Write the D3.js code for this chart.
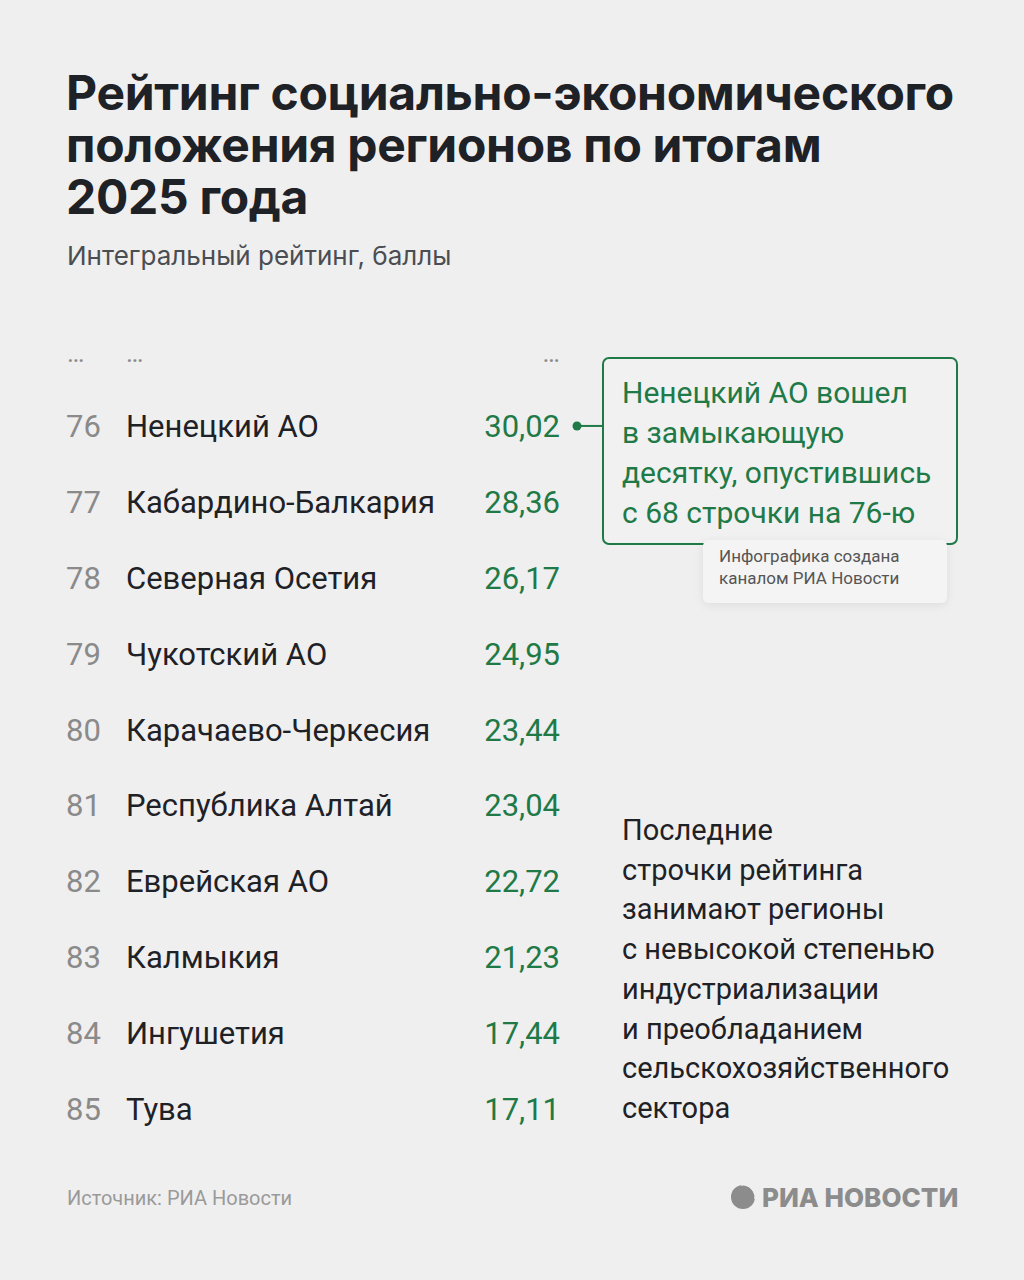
<!DOCTYPE html>
<html><head><meta charset="utf-8">
<script src="https://cdn.jsdelivr.net/npm/d3@7"></script>
<style>body{margin:0;background:#efefef}svg{display:block}</style>
</head><body>
<script>
const ranks=[76,77,78,79,80,81,82,83,84,85];
const regions=["Ненецкий АО","Кабардино-Балкария","Северная Осетия","Чукотский АО","Карачаево-Черкесия","Республика Алтай","Еврейская АО","Калмыкия","Ингушетия","Тува"];
const values=[30.02,28.36,26.17,24.95,23.44,23.04,22.72,21.23,17.44,17.11];
const titleLines=["Рейтинг социально-экономического","положения регионов по итогам","2025 года"];
const subtitle="Интегральный рейтинг, баллы";
const calloutLines=["Ненецкий АО вошел","в замыкающую","десятку, опустившись","с 68 строчки на 76-ю"];
const noteLines=["Последние","строчки рейтинга","занимают регионы","с невысокой степенью","индустриализации","и преобладанием","сельскохозяйственного","сектора"];
const creditLines=["Инфографика создана","каналом РИА Новости"];

const W=1024,H=1280,F="Roboto, 'Noto Sans', sans-serif",FT="Inter, 'Noto Sans', sans-serif";
const green="#1f7a47",dark="#1e2126",grey="#8a8a8a";
const svg=d3.select("body").append("svg").attr("width",W).attr("height",H).style("font-family",F);
svg.append("rect").attr("width",W).attr("height",H).attr("fill","#efefef");

svg.selectAll(".t").data(titleLines).join("text").attr("x",66).attr("y",110+0*52).attr("y",(d,i)=>110+i*52)
 .attr("font-family",FT).attr("font-size",48).attr("font-weight",700).attr("fill",dark).attr("letter-spacing",-0.3).text(d=>d);
svg.append("text").attr("x",67).attr("y",265).attr("font-family",FT).attr("font-size",26).attr("fill","#4a4d52").text(subtitle);

const y=d3.scaleBand().domain(ranks).range([388,1147]);
const fmt=v=>d3.format(".2f")(v).replace(".",",");
[[67,"start"],[126,"start"],[560,"end"]].forEach(([x,a])=>svg.append("text").attr("x",x).attr("y",362).attr("text-anchor",a).attr("font-size",26).attr("fill",grey).text("…"));
const g=svg.selectAll(".row").data(ranks).join("g").attr("transform",d=>`translate(0,${y(d)+y.bandwidth()/2+11})`);
g.append("text").attr("x",66).attr("font-size",31).attr("fill",grey).text(d=>d);
g.append("text").attr("x",126).attr("font-size",31).attr("fill",dark).text((d,i)=>regions[i]);
g.append("text").attr("x",560).attr("text-anchor","end").attr("font-size",31).attr("fill",green).text((d,i)=>fmt(values[i]));

const cy=y(76)+y.bandwidth()/2;
svg.append("line").attr("x1",576).attr("x2",603).attr("y1",cy).attr("y2",cy).attr("stroke",green).attr("stroke-width",2);
svg.append("circle").attr("cx",577).attr("cy",cy).attr("r",4.5).attr("fill",green);
svg.append("rect").attr("x",603).attr("y",358).attr("width",354).attr("height",186).attr("rx",6).attr("fill","#f1f1f1").attr("stroke",green).attr("stroke-width",2);
svg.selectAll(".c").data(calloutLines).join("text").attr("x",622).attr("y",(d,i)=>403+i*40)
 .attr("font-size",30).attr("fill",green).text(d=>d);
const defs=svg.append("defs");
const f=defs.append("filter").attr("id","sh").attr("x","-20%").attr("y","-20%").attr("width","140%").attr("height","160%");
f.append("feDropShadow").attr("dx",0).attr("dy",2).attr("stdDeviation",4).attr("flood-opacity",0.08);
svg.append("rect").attr("x",703).attr("y",540).attr("width",244).attr("height",63).attr("rx",6).attr("fill","#f4f4f4").attr("filter","url(#sh)");
svg.selectAll(".cr").data(creditLines).join("text").attr("x",719).attr("y",(d,i)=>562+i*22)
 .attr("font-size",17).attr("fill","#555").text(d=>d);

svg.selectAll(".n").data(noteLines).join("text").attr("x",622).attr("y",(d,i)=>840+i*39.7)
 .attr("font-size",29).attr("fill",dark).text(d=>d);

svg.append("text").attr("x",67).attr("y",1205).attr("font-size",20).attr("fill","#9a9a9a").text("Источник: РИА Новости");
const lg=svg.append("g").attr("transform","translate(743,1197)");
lg.append("circle").attr("r",12).attr("fill","#8c8c8c");
[0,1,2].forEach(i=>lg.append("path").attr("d",`M${-2+i*4},-12 A12,12 0 0 1 12,${2-i*4}`).attr("stroke","#efefef").attr("stroke-width",1.6).attr("fill","none"));
svg.append("text").attr("x",762).attr("y",1207).attr("font-family",FT).attr("font-size",26).attr("font-weight",800).attr("fill","#8c8c8c").text("РИА НОВОСТИ");
</script>
</body></html>
